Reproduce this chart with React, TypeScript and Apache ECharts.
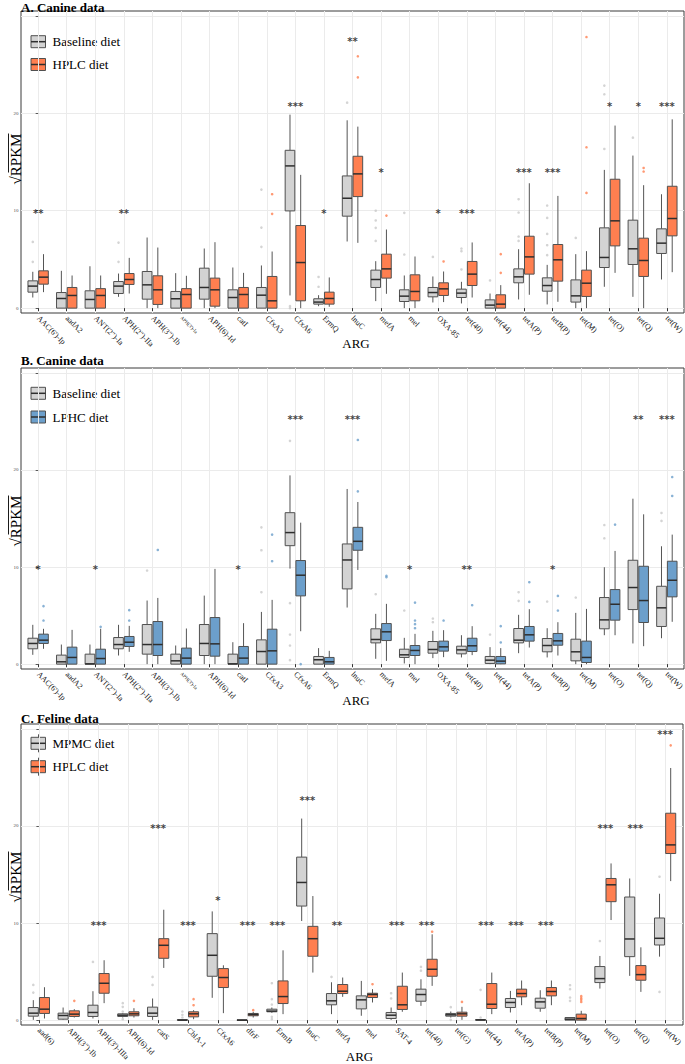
import React, { useEffect, useRef } from 'react';
import * as echarts from 'echarts';

const SERIF = '"Liberation Serif", "Times New Roman", Times, serif';
const STAR_FONT = '"DejaVu Sans", Arial, sans-serif';

// ---------------- categories ----------------
const canineCategories = ["AAC(6')-Ip", 'aadA2', 'ANT(2")-Ia', 'APH(2")-IIa', 'APH(3")-Ib', "APH(3')-Ia", 'APH(6)-Id', 'catI', 'CfxA3', 'CfxA6', 'ErmQ', 'lnuC', 'mefA', 'mel', 'OXA-85', 'tet(40)', 'tet(44)', 'tetA(P)', 'tetB(P)', 'tet(M)', 'tet(O)', 'tet(Q)', 'tet(W)'];
const felineCategories = ['aad(6)', 'APH(3")-Ib', "APH(3')-IIIa", 'APH(6)-Id', 'catS', 'CblA-1', 'CfxA6', 'dfrF', 'ErmB', 'lnuC', 'mefA', 'mel', 'SAT-4', 'tet(40)', 'tet(G)', 'tet(44)', 'tetA(P)', 'tetB(P)', 'tet(M)', 'tet(O)', 'tet(Q)', 'tet(W)'];
const smallLabels = ["APH(3')-Ia"];

const yTickValues = [0, 10, 20, 30];
const yLabelValues = [0, 10, 20];

// ---------------- Panel A: Baseline vs HPLC (canine) ----------------
// [lower whisker, Q1, median, Q3, upper whisker]
const baselineA = [
  [1.09, 1.64, 2.26, 2.8, 3.73], [0, 0, 0.99, 1.6, 3.83], [0, 0, 0.89, 1.78, 4.3], [1.16, 1.5, 2.26, 2.73, 3.55],
  [0, 0.92, 2.39, 3.76, 7.25], [0, 0, 0.96, 1.71, 3.59], [0, 0.92, 2.12, 4.1, 6.12], [0, 0, 1.09, 1.88, 4.17],
  [0, 0, 1.33, 2.12, 4.38], [1.3, 9.98, 14.6, 16.2, 19.86], [0.2, 0.41, 0.62, 0.96, 1.33], [6.84, 9.44, 11.28, 13.57, 19.28],
  [0.72, 2.12, 2.94, 3.9, 4.82], [0, 0.68, 1.23, 1.88, 3.35], [0.58, 1.16, 1.6, 2.12, 3.25], [0.48, 1.09, 1.54, 1.95, 2.7],
  [0, 0, 0.31, 0.85, 1.5], [0.89, 2.6, 3.21, 4.03, 6.05], [0.38, 1.74, 2.32, 3.11, 4.44], [0, 0.62, 1.26, 2.9, 5.54],
  [2.19, 4.17, 5.2, 8.24, 14.19], [1.16, 4.48, 6.09, 9.03, 15.66], [2.94, 5.61, 6.67, 8.14, 11.69],
];
const hplcA = [
  [1.64, 2.46, 3.18, 3.83, 5.54], [0, 0, 1.3, 2.12, 3.35], [0, 0, 1.3, 2.0, 3.35], [1.5, 2.43, 2.94, 3.55, 5.16],
  [0, 0.38, 1.88, 3.32, 6.22], [0, 0, 1.4, 2.0, 3.32], [0, 0.2, 1.88, 3.08, 6.77], [0, 0, 1.4, 2.12, 3.62],
  [0, 0, 0.75, 3.25, 5.81], [0, 0.75, 4.68, 8.48, 13.68], [0.14, 0.41, 0.99, 1.64, 3.15], [6.7, 11.45, 13.78, 15.59, 18.63],
  [1.47, 3.08, 4.03, 5.54, 8.07], [0, 0.75, 1.71, 3.42, 5.3], [0.62, 1.3, 1.98, 2.6, 3.76], [1.09, 2.32, 3.49, 4.79, 6.74],
  [0, 0, 0.41, 1.37, 2.36], [1.37, 3.49, 5.26, 7.38, 12.82], [0.65, 2.77, 4.96, 6.53, 11.52], [0, 1.2, 2.56, 3.9, 5.85],
  [3.62, 6.39, 8.96, 13.23, 18.74], [0, 3.25, 4.89, 7.18, 12.62], [3.69, 7.42, 9.2, 12.51, 19.38],
];
// [category index, value]
const baselineOutA = [
  [0, 6.8], [0, 4.75], [3, 6.73], [3, 4.75], [8, 12.17], [8, 8.27], [8, 6.29], [9, 0.2], [9, 0], [10, 3.2], [10, 2.19],
  [11, 21.09], [12, 10.0], [12, 9.0], [12, 8.24], [12, 6.9], [13, 9.78], [13, 5.5], [14, 5.26], [15, 6.12], [15, 5.85],
  [15, 3.97], [16, 2.84], [17, 11.18], [17, 9.81], [17, 7.35], [17, 6.9], [18, 10.53], [18, 9.26], [18, 7.62], [18, 6.46],
  [18, 5.44], [19, 7.21], [20, 22.84], [20, 21.95], [20, 16.34], [21, 17.5],
];
const hplcOutA = [
  [8, 11.69], [8, 9.68], [11, 25.85], [11, 23.69], [12, 9.5], [14, 4.79], [16, 5.54], [16, 3.62], [19, 27.83],
  [19, 16.51], [19, 11.83], [21, 14.39], [21, 14.02],
];
const starIdxA = [0, 3, 9, 10, 11, 12, 14, 15, 17, 18, 20, 21, 22];
const starTxtA = ['**', '**', '***', '*', '**', '*', '*', '***', '***', '***', '*', '*', '***'];
const starYA = [10, 10, 21, 10, 27.6, 14.2, 10, 10, 14.2, 14.2, 21, 21, 21];

// ---------------- Panel B: Baseline vs LPHC (canine) ----------------
const baselineB = [
  [0.96, 1.58, 2.13, 2.67, 4.05], [0, 0, 0.24, 0.93, 2.02], [0, 0, 0.03, 1.03, 2.02], [0.89, 1.58, 2.02, 2.74, 4.05],
  [0, 1.03, 2.02, 4.08, 6.55], [0, 0, 0.34, 1.03, 1.92], [0, 0.89, 2.13, 4.08, 7.06], [0, 0, 0.03, 1.03, 2.26],
  [0, 0, 1.3, 2.5, 5.38], [9.84, 12.2, 13.55, 15.6, 19.44], [0, 0, 0.45, 0.79, 1.65], [5.83, 7.75, 10.73, 12.38, 18.04],
  [0.55, 2.19, 2.54, 3.64, 5.18], [0.07, 0.69, 0.96, 1.54, 2.71], [0.62, 1.13, 1.51, 2.33, 3.43], [0.69, 1.06, 1.47, 1.85, 2.98],
  [0, 0.07, 0.41, 0.79, 1.75], [1.13, 2.19, 2.47, 3.67, 5.08], [0.69, 1.27, 1.92, 2.64, 3.7], [0, 0.34, 1.27, 2.57, 5.28],
  [2.98, 3.64, 4.56, 6.86, 9.98], [2.13, 5.62, 7.89, 10.7, 17.04], [2.67, 3.88, 5.8, 8.02, 12.14],
];
const lphcB = [
  [1.58, 2.13, 2.47, 3.09, 3.64], [0, 0, 0.69, 1.75, 3.53], [0, 0, 0.58, 1.54, 3.64], [1.27, 1.82, 2.26, 2.85, 3.94],
  [0, 0.89, 2.02, 4.39, 6.82], [0, 0, 0.62, 1.65, 3.67], [0, 0.82, 2.09, 4.8, 9.81], [0, 0, 0.62, 1.82, 4.22],
  [0, 0, 1.37, 3.6, 6.62], [3.39, 7.03, 9.16, 10.67, 14.57], [0, 0, 0.24, 0.69, 1.37], [9.7, 11.73, 12.65, 14.09, 16.7],
  [0.34, 2.43, 3.33, 4.18, 6.21], [0, 0.89, 1.41, 1.92, 3.12], [0.72, 1.34, 1.78, 2.37, 3.5], [0.93, 1.3, 1.89, 2.67, 3.91],
  [0, 0.03, 0.31, 0.79, 1.65], [1.71, 2.37, 3.02, 3.88, 5.66], [0.89, 1.95, 2.4, 3.16, 4.32], [0, 0.17, 0.69, 2.37, 5.69],
  [2.98, 4.53, 6.17, 7.68, 11.66], [1.85, 4.29, 6.55, 10.08, 15.43], [4.36, 6.93, 8.64, 10.6, 13.34],
];
const baselineOutB = [
  [4, 9.64], [8, 14.09], [8, 11.73], [8, 7.41], [9, 23.0], [9, 6.28], [9, 3.05], [9, 1.92], [9, 0.41], [12, 7.2],
  [13, 5.52], [14, 4.7], [14, 4.32], [16, 3.05], [17, 7.41], [17, 6.52], [18, 6.45], [19, 6.86], [20, 14.33], [20, 12.96],
  [22, 15.57], [22, 14.75],
];
const lphcOutB = [
  [0, 5.97], [0, 4.49], [2, 3.84], [3, 5.56], [3, 4.49], [4, 11.76], [8, 13.34], [8, 10.6], [9, 0], [11, 23.09],
  [11, 17.8], [12, 9.1], [12, 8.95], [13, 6.34], [13, 4.49], [13, 4.12], [13, 3.7], [14, 4.49], [15, 6.07], [16, 3.91],
  [16, 2.23], [17, 8.44], [17, 6.41], [18, 7.03], [18, 5.52], [20, 14.37], [22, 19.27], [22, 17.32],
];
const starIdxB = [0, 2, 7, 9, 11, 13, 15, 18, 21, 22];
const starTxtB = ['*', '*', '*', '***', '***', '*', '**', '*', '**', '***'];
const starYB = [10, 10, 10, 25.5, 25.5, 10, 10, 10, 25.5, 25.5];

// ---------------- Panel C: MPMC vs HPLC (feline) ----------------
const mpmcC = [
  [0.03, 0.41, 0.72, 1.3, 2.06], [0.03, 0.1, 0.48, 0.72, 1.3], [0.17, 0.38, 0.79, 1.54, 2.98], [0.27, 0.38, 0.51, 0.65, 0.72],
  [0.03, 0.38, 0.72, 1.34, 2.23], [0, 0, 0, 0.05, 0.08], [2.3, 4.52, 6.68, 8.91, 11.2], [0, 0, 0, 0.03, 0.05],
  [0.75, 0.86, 0.93, 1.13, 1.3], [10.21, 11.75, 14.18, 16.79, 20.76], [0.62, 1.58, 1.99, 2.74, 3.9], [0.45, 1.16, 2.09, 2.5, 4.04],
  [0.03, 0.17, 0.51, 0.79, 1.3], [1.47, 1.95, 2.64, 3.19, 4.21], [0.27, 0.41, 0.55, 0.69, 0.89], [0, 0, 0.02, 0.05, 0.08],
  [0.79, 1.3, 1.82, 2.23, 3.01], [0.86, 1.23, 1.88, 2.26, 3.08], [0, 0, 0.1, 0.27, 0.3], [3.25, 3.87, 4.28, 5.52, 6.61],
  [4.56, 6.54, 8.36, 12.68, 14.59], [6.54, 7.74, 8.43, 10.52, 13.02],
];
const hplcC = [
  [0.17, 0.69, 1.13, 2.33, 3.39], [0.27, 0.38, 0.62, 0.96, 1.13], [1.75, 2.77, 3.8, 4.8, 6.17], [0.27, 0.45, 0.65, 0.86, 1.23],
  [5.38, 6.37, 7.71, 8.39, 11.37], [0.1, 0.34, 0.65, 0.86, 1.03], [0.72, 3.36, 4.39, 5.31, 5.65], [0.27, 0.45, 0.58, 0.69, 0.85],
  [0.62, 1.71, 2.43, 4.04, 7.19], [4.9, 6.58, 8.39, 9.66, 12.78], [2.4, 2.74, 2.98, 3.67, 4.39], [1.82, 2.33, 2.64, 2.77, 3.19],
  [0.86, 1.1, 1.58, 3.49, 4.9], [3.53, 4.52, 5.24, 6.27, 8.84], [0.03, 0.41, 0.65, 0.82, 1.37], [0.62, 1.2, 1.64, 3.77, 4.9],
  [1.54, 2.4, 2.74, 3.19, 4.08], [1.54, 2.5, 2.95, 3.36, 4.08], [0, 0, 0.17, 0.62, 0.96], [10.31, 12.2, 13.94, 14.59, 16.14],
  [2.91, 4.11, 4.69, 5.62, 7.5], [14.32, 17.16, 18.05, 21.31, 25.97],
];
const mpmcOutC = [
  [0, 3.63], [0, 2.84], [2, 6.0], [3, 1.75], [3, 1.37], [3, 0.89], [3, 0.1], [4, 4.45], [4, 3.63], [5, 0.89], [5, 0.55],
  [5, 0.27], [8, 3.8], [8, 2.16], [8, 1.61], [8, 0.34], [8, 0.1], [10, 4.45], [12, 2.77], [12, 2.23], [13, 5.48], [13, 5.1],
  [14, 1.34], [14, 0.03], [15, 3.12], [15, 0.27], [18, 3.6], [18, 3.19], [18, 2.33], [18, 1.99], [19, 8.15], [21, 14.77],
  [21, 2.91],
];
const hplcOutC = [
  [1, 1.99], [3, 1.99], [5, 2.16], [5, 1.54], [7, 1.03], [11, 3.7], [13, 9.11], [14, 1.88], [18, 2.47], [18, 2.26],
  [18, 2.09], [18, 1.88], [21, 28.3],
];
const starIdxC = [2, 4, 5, 6, 7, 8, 9, 10, 12, 13, 15, 16, 17, 19, 20, 21];
const starTxtC = ['***', '***', '***', '*', '***', '***', '***', '**', '***', '***', '***', '***', '***', '***', '***', '***'];
const starYC = [10, 20, 10, 12.6, 10, 10, 22.85, 10, 10, 10, 10, 10, 10, 20, 20, 29.7];

// ---------------- styles & layout ----------------
const GREY_FILL = '#D3D3D3';
const CORAL = '#FF7F50';
const BLUE = '#6C9FCB';
const GREY_OUT = '#C9C9C9';
const BOX_STROKE = '#505050';
const MEDIAN = '#2E2E2E';
const GRID_LINE = '#EBEBEB';
const STAR = '#111111';

const HALF = 0.16875; // half box width in category units
const OFF = 0.1875;   // dodge offset

const panels = [
  {
    title: 'A. Canine data', cats: canineCategories, base: baselineA, diet: hplcA, outBase: baselineOutA, outDiet: hplcOutA,
    starIdx: starIdxA, starTxt: starTxtA, starY: starYA, color: CORAL, legend: ['Baseline diet', 'HPLC diet'],
  },
  {
    title: 'B. Canine data', cats: canineCategories, base: baselineB, diet: lphcB, outBase: baselineOutB, outDiet: lphcOutB,
    starIdx: starIdxB, starTxt: starTxtB, starY: starYB, color: BLUE, legend: ['Baseline diet', 'LPHC diet'],
  },
  {
    title: 'C. Feline data', cats: felineCategories, base: mpmcC, diet: hplcC, outBase: mpmcOutC, outDiet: hplcOutC,
    starIdx: starIdxC, starTxt: starTxtC, starY: starYC, color: CORAL, legend: ['MPMC diet', 'HPLC diet'],
  },
];

const LAYOUT = [
  { grid: { left: 21, top: 11, width: 663, height: 302 }, titleY: 7, legendY: [41.7, 64.5], argX: 356, argY: 343, yTitleY: 159 },
  { grid: { left: 21, top: 368, width: 663, height: 301 }, titleY: 360, legendY: [393.3, 417], argX: 356, argY: 700, yTitleY: 521 },
  { grid: { left: 21, top: 724, width: 662, height: 301 }, titleY: 718.3, legendY: [743.3, 766.7], argX: 359.5, argY: 1056.5, yTitleY: 877 },
];

function boxSeries(k: number, boxes: number[][], side: number, fill: string, name: string) {
  return {
    type: 'custom',
    name,
    xAxisIndex: k,
    yAxisIndex: k,
    z: 3,
    data: boxes.map((b, i) => [i, ...b]),
    encode: { x: 0, y: [1, 2, 3, 4, 5] },
    renderItem: (_params: any, api: any) => {
      const c = api.value(0) + side * OFF;
      const lo = api.coord([c, api.value(1)]);
      const q1 = api.coord([c, api.value(2)]);
      const md = api.coord([c, api.value(3)]);
      const q3 = api.coord([c, api.value(4)]);
      const hi = api.coord([c, api.value(5)]);
      const xl = api.coord([c - HALF, 0])[0];
      const xr = api.coord([c + HALF, 0])[0];
      return {
        type: 'group',
        children: [
          { type: 'line', shape: { x1: lo[0], y1: lo[1], x2: q1[0], y2: q1[1] }, style: { stroke: '#555', lineWidth: 1 } },
          { type: 'line', shape: { x1: q3[0], y1: q3[1], x2: hi[0], y2: hi[1] }, style: { stroke: '#555', lineWidth: 1 } },
          {
            type: 'rect',
            shape: { x: xl, y: q3[1], width: xr - xl, height: Math.max(q1[1] - q3[1], 0.5) },
            style: { fill, stroke: BOX_STROKE, lineWidth: 1 },
          },
          { type: 'line', shape: { x1: xl, y1: md[1], x2: xr, y2: md[1] }, style: { stroke: MEDIAN, lineWidth: 1.5 } },
        ],
      };
    },
  };
}

function outlierSeries(k: number, pts: number[][], side: number, color: string) {
  return {
    type: 'scatter',
    xAxisIndex: k,
    yAxisIndex: k,
    z: 4,
    symbol: 'circle',
    symbolSize: 2.6,
    itemStyle: { color },
    data: pts.map(([i, v]) => [i + side * OFF, v]),
  };
}

function starSeries(k: number, idx: number[], txt: string[], ys: number[]) {
  return {
    type: 'scatter',
    xAxisIndex: k,
    yAxisIndex: k,
    z: 5,
    symbol: 'circle',
    symbolSize: 0,
    itemStyle: { color: STAR },
    data: idx.map((i, j) => ({ value: [i, ys[j]], name: txt[j] })),
    label: {
      show: true,
      position: [0, 0],
      align: 'center',
      verticalAlign: 'middle',
      offset: [0, 2.5],
      formatter: '{b}',
      color: STAR,
      fontFamily: STAR_FONT,
      fontWeight: 'bold',
      fontSize: 10,
      textBorderColor: STAR,
      textBorderWidth: 0,
    },
  };
}

function buildOption() {
  const grid: any[] = [];
  const xAxis: any[] = [];
  const yAxis: any[] = [];
  const series: any[] = [];
  const graphic: any[] = [];

  panels.forEach((p, k) => {
    const L = LAYOUT[k];
    const n = p.cats.length;
    const idx = p.cats.map((_, i) => i);
    grid.push({
      ...L.grid,
      show: true,
      borderColor: '#3A3A3A',
      borderWidth: 1,
      backgroundColor: 'transparent',
      containLabel: false,
      outerBoundsMode: 'none',
    });
    xAxis.push({
      type: 'value',
      gridIndex: k,
      min: -0.6,
      max: n - 0.4,
      axisLine: { show: false },
      axisTick: { show: true, customValues: idx, length: 3, lineStyle: { color: '#333', width: 1 } },
      axisLabel: {
        customValues: idx,
        rotate: -45,
        margin: 4,
        fontFamily: SERIF,
        fontSize: 8,
        color: '#111',
        formatter: (v: number) => {
          const name = p.cats[Math.round(v)];
          return smallLabels.includes(name) ? `{s|${name}}` : name;
        },
        rich: { s: { fontFamily: SERIF, fontSize: 5, color: '#111' } },
      },
      splitLine: { show: true, lineStyle: { color: GRID_LINE, width: 1 } },
    });
    yAxis.push({
      type: 'value',
      gridIndex: k,
      min: -0.5,
      max: 30.5,
      axisLine: { show: false },
      axisTick: { show: true, customValues: yTickValues, length: 2.5, lineStyle: { color: '#333', width: 0.8 } },
      axisLabel: { customValues: yLabelValues, fontSize: 5, color: '#4D4D4D', margin: 2.5, fontFamily: SERIF },
      splitLine: { show: true, lineStyle: { color: GRID_LINE, width: 1 } },
    });

    series.push(boxSeries(k, p.base, -1, GREY_FILL, p.legend[0]));
    series.push(boxSeries(k, p.diet, 1, p.color, p.legend[1]));
    series.push(outlierSeries(k, p.outBase, -1, GREY_OUT));
    series.push(outlierSeries(k, p.outDiet, 1, p.color));
    series.push(starSeries(k, p.starIdx, p.starTxt, p.starY));

    // title
    graphic.push({
      type: 'text', x: 21, y: L.titleY,
      style: { text: p.title, font: `bold 13px ${SERIF}`, fill: '#000', align: 'left', verticalAlign: 'middle' },
    });
    // x axis title
    graphic.push({
      type: 'text', x: L.argX, y: L.argY,
      style: { text: 'ARG', font: `13px ${SERIF}`, fill: '#000', align: 'center', verticalAlign: 'middle' },
    });
    // y axis title (rotated) with overline for square root
    graphic.push({
      type: 'text', x: 15.5, y: L.yTitleY, rotation: Math.PI / 2,
      style: { text: '\u221ARPKM', font: `15px ${SERIF}`, fill: '#000', align: 'center', verticalAlign: 'middle' },
    });
    graphic.push({
      type: 'line',
      shape: { x1: 8.5, y1: L.yTitleY - 25.5, x2: 8.5, y2: L.yTitleY + 13.5 },
      style: { stroke: '#000', lineWidth: 0.9 },
    });
    // legend
    [GREY_FILL, p.color].forEach((fill, j) => {
      const cy = L.legendY[j];
      graphic.push({ type: 'line', shape: { x1: 38.5, y1: cy - 9, x2: 38.5, y2: cy + 9 }, style: { stroke: '#555', lineWidth: 1 } });
      graphic.push({ type: 'rect', shape: { x: 31, y: cy - 6, width: 14.5, height: 12 }, style: { fill, stroke: BOX_STROKE, lineWidth: 1 } });
      graphic.push({ type: 'line', shape: { x1: 31, y1: cy, x2: 45.5, y2: cy }, style: { stroke: MEDIAN, lineWidth: 1.5 } });
      graphic.push({
        type: 'text', x: 52.5, y: cy,
        style: { text: p.legend[j], font: `13px ${SERIF}`, fill: '#000', align: 'left', verticalAlign: 'middle' },
      });
    });
  });

  return { animation: false, backgroundColor: '#fff', grid, xAxis, yAxis, series, graphic };
}

export default function App() {
  const ref = useRef<HTMLDivElement>(null);
  useEffect(() => {
    if (!ref.current) return;
    const chart = echarts.init(ref.current, null, { renderer: 'svg' });
    chart.setOption(buildOption() as any);
    return () => chart.dispose();
  }, []);
  return <div ref={ref} style={{ position: 'absolute', left: 0, top: 0, width: 685, height: 1064 }} />;
}
